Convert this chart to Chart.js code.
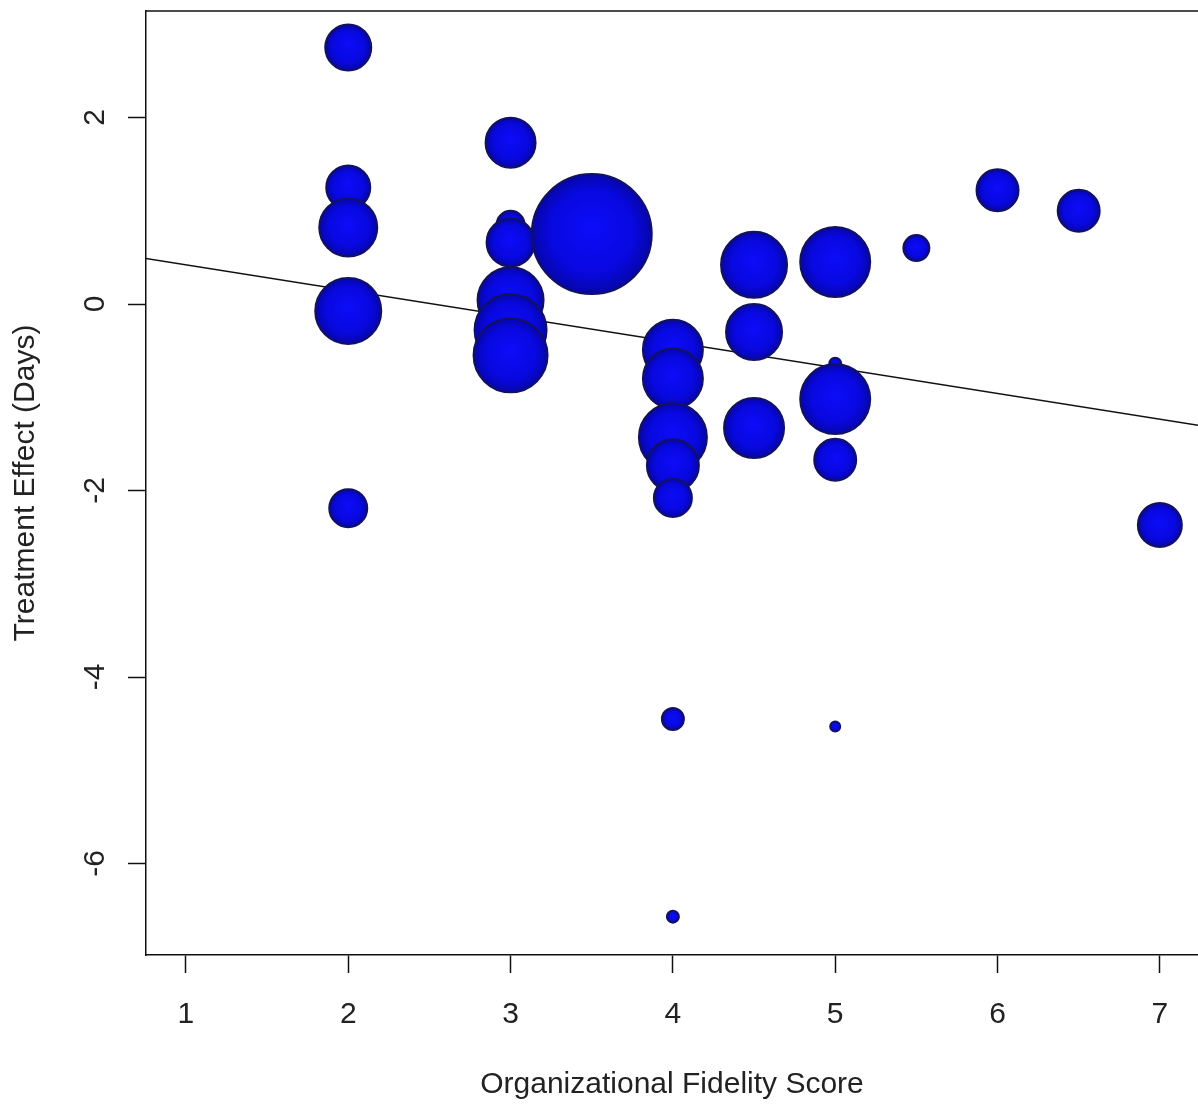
<!DOCTYPE html>
<html>
<head>
<meta charset="utf-8">
<script src="https://cdn.jsdelivr.net/npm/chart.js@4.4.1/dist/chart.umd.min.js"></script>
<style>
html,body{margin:0;padding:0;background:#ffffff;overflow:hidden;}
canvas{display:block;}
</style>
</head>
<body>
<canvas id="c" width="1198" height="1109"></canvas>
<script>
// ---- data ----
const fidelity = [2, 2, 2, 2, 2,
                  3, 3, 3, 3, 3, 3,
                  3.5,
                  4, 4, 4, 4, 4, 4, 4,
                  4.5, 4.5, 4.5,
                  5, 5, 5, 5, 5,
                  5.5, 6, 6.5, 7];
const effect = [2.75, 1.25, 0.82, -0.075, -2.19,
                1.73, 0.85, 0.66, 0.04, -0.28, -0.55,
                0.75,
                -0.49, -0.80, -1.43, -1.73, -2.08, -4.45, -6.57,
                0.42, -0.30, -1.33,
                0.45, -0.64, -1.02, -1.67, -4.53,
                0.60, 1.22, 1.00, -2.37];
const weight = [23, 22, 29, 33, 19,
                25, 14, 24, 33, 36, 37,
                60,
                30, 30, 34, 26, 19, 11, 6,
                33, 28, 30,
                35, 6, 35, 21, 5,
                13, 21, 21, 22];
const xTicks = [1, 2, 3, 4, 5, 6, 7];
const yTicks = [-6, -4, -2, 0, 2];
const fitX = [0.5, 7.5];
const fitY = [0.558, -1.374];
const xTitle = 'Organizational Fidelity Score';
const yTitle = 'Treatment Effect (Days)';

const FONT = "'Liberation Sans', Arial, sans-serif";
const TXT = '#222222';

const bubbles = fidelity.map((x, i) => ({x: x, y: effect[i], r: weight[i]}));
const fitLine = fitX.map((x, i) => ({x: x, y: fitY[i]}));

function bubbleFill(ctx) {
  const flat = '#0808dc';
  try {
    const chart = ctx.chart;
    const raw = ctx.raw;
    if (!raw || !chart.scales || !chart.scales.x) return flat;
    const px = chart.scales.x.getPixelForValue(raw.x);
    const py = chart.scales.y.getPixelForValue(raw.y);
    if (!isFinite(px) || !isFinite(py)) return flat;
    const g = chart.ctx.createRadialGradient(px, py - raw.r * 0.15, 0, px, py, raw.r);
    g.addColorStop(0, '#0c0cfa');
    g.addColorStop(0.7, '#0808df');
    g.addColorStop(1, '#0606a8');
    return g;
  } catch (e) { return flat; }
}

const frame = {
  id: 'frame',
  afterDraw(chart) {
    const {ctx, chartArea: a} = chart;
    ctx.save();
    ctx.strokeStyle = '#111111';
    ctx.lineWidth = 1.5;
    ctx.beginPath();
    ctx.moveTo(a.left, a.top);
    ctx.lineTo(a.right + 2, a.top);
    ctx.stroke();
    ctx.restore();
  }
};

new Chart(document.getElementById('c'), {
  data: {
    datasets: [
      {
        type: 'line',
        data: fitLine,
        borderColor: '#111111',
        borderWidth: 1.5,
        pointRadius: 0,
        fill: false,
        order: 2
      },
      {
        type: 'bubble',
        data: bubbles,
        backgroundColor: bubbleFill,
        borderColor: '#12125e',
        borderWidth: 2,
        hoverRadius: 0,
        order: 1,
        clip: false
      }
    ]
  },
  options: {
    responsive: false,
    animation: false,
    events: [],
    layout: {autoPadding: false, padding: {top: 11, left: 0, right: 0, bottom: 0}},
    plugins: {legend: {display: false}, tooltip: {enabled: false}},
    scales: {
      x: {
        type: 'linear',
        position: 'bottom',
        min: 0.754,
        max: 7.235,
        afterBuildTicks: s => { s.ticks = xTicks.map(v => ({value: v})); },
        afterFit: s => { s.height = 154; s.paddingLeft = 0; s.paddingRight = 0; },
        grid: {display: true, drawOnChartArea: false, drawTicks: true, tickLength: 18, tickColor: '#111111', tickWidth: 1.5},
        border: {display: true, color: '#111111', width: 1.5},
        ticks: {font: {family: FONT, size: 30}, color: TXT, padding: 24, maxRotation: 0, minRotation: 0, autoSkip: false},
        title: {display: true, text: xTitle, color: TXT, font: {family: FONT, size: 30}, padding: {top: 0, bottom: 6}}
      },
      y: {
        type: 'linear',
        position: 'left',
        min: -6.981,
        max: 3.142,
        afterBuildTicks: s => { s.ticks = yTicks.map(v => ({value: v})); },
        afterFit: s => { s.width = 146; s.paddingTop = 0; s.paddingBottom = 0; },
        grid: {display: true, drawOnChartArea: false, drawTicks: true, tickLength: 18, tickColor: '#111111', tickWidth: 1.5},
        border: {display: true, color: '#111111', width: 1.5},
        ticks: {font: {family: FONT, size: 30}, color: TXT, padding: 19, minRotation: 90, maxRotation: 90, crossAlign: 'center', autoSkip: false},
        title: {display: true, text: yTitle, color: TXT, font: {family: FONT, size: 30}, padding: {top: 8, bottom: 0}}
      }
    }
  },
  plugins: [frame]
});
</script>
</body>
</html>
